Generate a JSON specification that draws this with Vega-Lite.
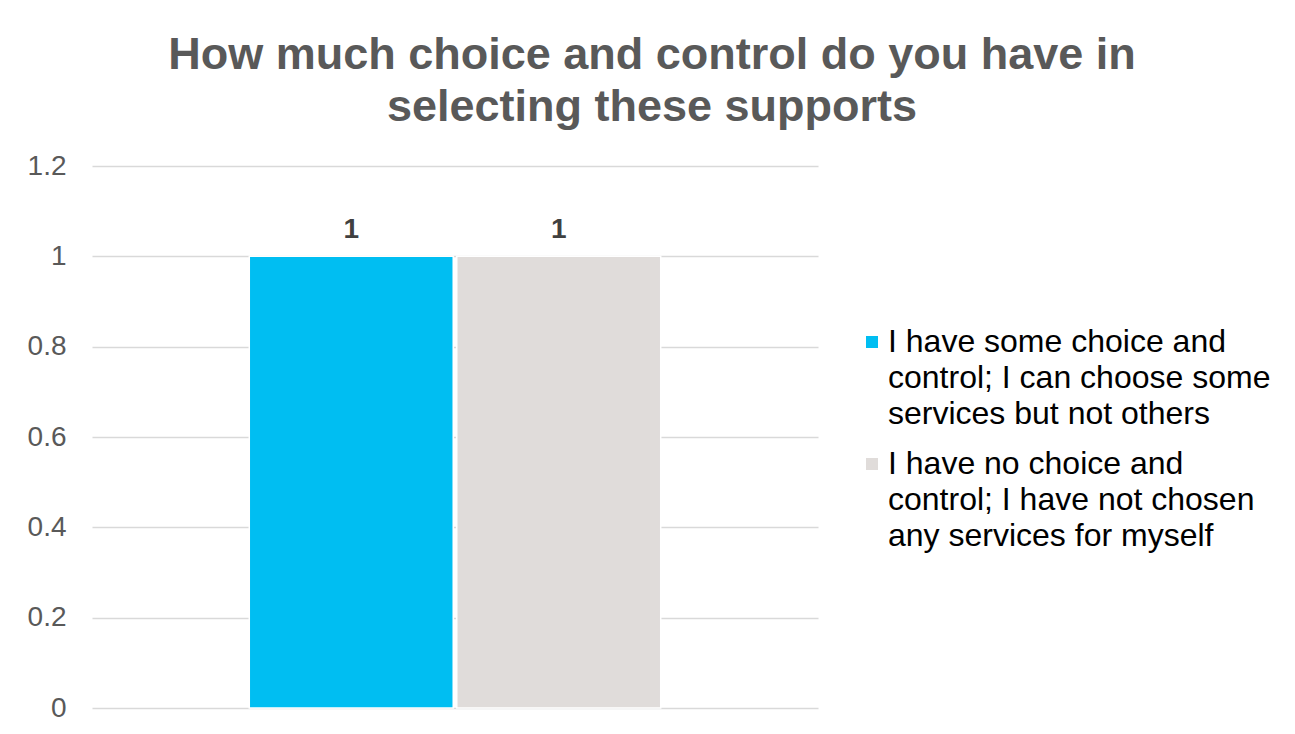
{
  "$schema": "https://vega.github.io/schema/vega-lite/v6.json",
  "width": 726,
  "height": 542,
  "autosize": {"type": "none"},
  "padding": {"left": 92, "top": 166, "right": 477, "bottom": 26},
  "background": "white",
  "title": {
    "text": ["How much choice and control do you have in", "selecting these supports"],
    "font": "Liberation Sans",
    "fontSize": 45,
    "fontWeight": "bold",
    "color": "#595959",
    "lineHeight": 52,
    "anchor": "middle",
    "frame": "group",
    "dx": 197,
    "offset": 22
  },
  "data": {
    "values": [
      {"series": "I have some choice and control; I can choose some services but not others", "value": 1},
      {"series": "I have no choice and control; I have not chosen any services for myself", "value": 1}
    ]
  },
  "encoding": {
    "x": {
      "field": "series",
      "type": "nominal",
      "sort": null,
      "axis": null,
      "scale": {"paddingInner": 0.017, "paddingOuter": 0.758}
    },
    "y": {
      "field": "value",
      "type": "quantitative",
      "scale": {"domain": [0, 1.2]},
      "axis": {
        "values": [0, 0.2, 0.4, 0.6, 0.8, 1, 1.2],
        "format": "~g",
        "title": null,
        "domain": false,
        "ticks": false,
        "labelPadding": 26,
        "labelFont": "Liberation Sans",
        "labelFontSize": 28,
        "labelColor": "#595959",
        "gridColor": "#D9D9D9",
        "gridWidth": 1.5
      }
    }
  },
  "layer": [
    {
      "mark": {"type": "bar", "stroke": "white", "strokeWidth": 1.5},
      "encoding": {
        "color": {
          "field": "series",
          "type": "nominal",
          "sort": null,
          "scale": {"range": ["#00BEF2", "#E0DCDA"]},
          "legend": {
            "title": null,
            "orient": "none",
            "legendX": 764,
            "legendY": 160,
            "symbolType": "square",
            "symbolSize": 144,
            "symbolStrokeWidth": 0,
            "labelFont": "Liberation Sans",
            "labelFontSize": 32,
            "labelColor": "#000000",
            "labelLimit": 500,
            "labelOffset": 0,
            "rowPadding": 18,
            "labelExpr": "datum.label == 'I have some choice and control; I can choose some services but not others' ? ['I have some choice and', 'control; I can choose some', 'services but not others'] : ['I have no choice and', 'control; I have not chosen', 'any services for myself']"
          }
        }
      }
    },
    {
      "mark": {
        "type": "text",
        "dy": -18,
        "baseline": "alphabetic",
        "font": "Liberation Sans",
        "fontSize": 28,
        "fontWeight": "bold",
        "color": "#404040"
      },
      "encoding": {
        "text": {"field": "value", "type": "quantitative"}
      }
    }
  ],
  "config": {
    "view": {"stroke": null},
    "style": {"guide-label": {"lineHeight": 36}}
  }
}
